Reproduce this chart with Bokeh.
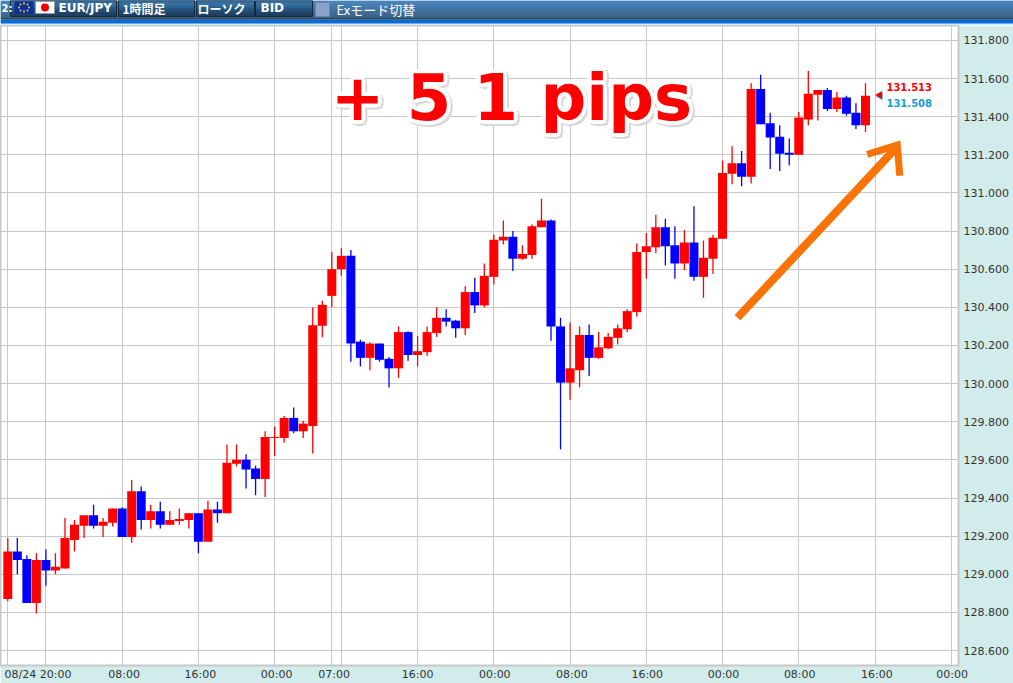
from bokeh.plotting import figure
from bokeh.layouts import column
from bokeh.models import FixedTicker, Range1d
from bokeh.core.properties import value
from bokeh.embed import file_html
from bokeh.resources import INLINE
import math

opens = [128.87,129.12,129.08,128.85,129.075,129.02,129.03,129.18,129.255,129.31,129.255,129.27,129.345,129.195,129.435,129.285,129.33,129.26,129.28,129.285,
129.32,129.17,129.34,129.32,129.58,129.60,129.555,129.50,129.715,129.715,129.82,129.75,129.778,130.303,130.46,130.60,130.67,130.22,130.135,130.21,
130.13,130.08,130.27,130.15,130.165,130.265,130.345,130.33,130.29,130.48,130.41,130.56,130.75,130.77,130.655,130.675,130.82,130.855,130.30,130.005,
130.07,130.255,130.135,130.185,130.24,130.285,130.375,130.69,130.715,130.82,130.725,130.63,130.74,130.56,130.655,130.76,131.10,131.155,131.085,131.545,
131.365,131.295,131.21,131.20,131.385,131.515,131.54,131.44,131.50,131.42,131.355]
closes = [129.12,129.075,128.85,129.075,129.02,129.04,129.19,129.26,129.31,129.255,129.275,129.345,129.195,129.435,129.285,129.33,129.26,129.285,129.29,129.32,
129.17,129.34,129.32,129.585,129.60,129.55,129.50,129.72,129.72,129.82,129.75,129.79,130.306,130.413,130.60,130.67,130.21,130.135,130.21,130.125,
130.08,130.27,130.15,130.17,130.27,130.345,130.325,130.29,130.48,130.41,130.565,130.755,130.77,130.655,130.68,130.825,130.855,130.30,130.005,130.08,
130.255,130.135,130.19,130.245,130.29,130.38,130.69,130.72,130.82,130.72,130.63,130.74,130.56,130.66,130.765,131.105,131.155,131.085,131.545,131.36,
131.29,131.205,131.20,131.395,131.52,131.54,131.44,131.50,131.415,131.355,131.51]
highs = [129.19,129.19,129.10,129.11,129.13,129.11,129.295,129.285,129.31,129.365,129.295,129.345,129.35,129.495,129.46,129.365,129.38,129.33,129.345,129.32,
129.32,129.385,129.38,129.68,129.68,129.63,129.57,129.75,129.775,129.83,129.875,129.805,130.40,130.434,130.69,130.71,130.70,130.23,130.215,130.21,
130.14,130.30,130.275,130.25,130.30,130.40,130.39,130.335,130.51,130.555,130.63,130.78,130.855,130.80,130.725,130.835,130.97,130.86,130.345,130.32,
130.30,130.31,130.27,130.265,130.31,130.39,130.735,130.79,130.885,130.865,130.825,130.805,130.93,130.75,130.78,131.17,131.245,131.22,131.575,131.62,
131.42,131.355,131.285,131.425,131.64,131.54,131.55,131.53,131.51,131.47,131.575]
lows = [128.86,129.00,128.85,128.795,128.94,129.00,129.03,129.12,129.19,129.24,129.195,129.25,129.195,129.165,129.235,129.24,129.24,129.26,129.26,129.24,
129.11,129.17,129.27,129.32,129.565,129.45,129.415,129.405,129.62,129.69,129.74,129.715,129.634,130.243,130.40,130.565,130.115,130.09,130.07,130.115,
129.98,130.03,130.12,130.09,130.145,130.245,130.30,130.24,130.255,130.37,130.40,130.52,130.73,130.59,130.65,130.655,130.82,130.225,129.655,129.915,
129.98,130.04,130.13,130.18,130.205,130.27,130.35,130.55,130.685,130.62,130.55,130.595,130.54,130.45,130.575,130.76,131.045,131.035,131.05,131.36,
131.125,131.115,131.145,131.20,131.355,131.38,131.43,131.425,131.405,131.335,131.32]

y_ticks = [128.6,128.8,129.0,129.2,129.4,129.6,129.8,130.0,130.2,130.4,130.6,130.8,131.0,131.2,131.4,131.6,131.8]
y_labels = ["128.600","128.800","129.000","129.200","129.400","129.600","129.800","130.000","130.200","130.400","130.600","130.800","131.000","131.200","131.400","131.600","131.800"]
grid_hours = [0,4,12,20,28,34,35,43,51,59,67,75,83,91,99]
label_hours = [3.17,12.2,20.2,28.2,34.25,43,51.1,59.2,67.1,75.1,83.1,91.2,99.1]
label_texts = ["08/24 20:00","08:00","16:00","00:00","07:00","16:00","00:00","08:00","16:00","00:00","08:00","16:00","00:00"]

ask_price = 131.513
bid_price = 131.508

GRID = "#c8c8c8"
STRIP = "#d2ecec"

# ---------- header bar ----------
band_colors = ["#1c66b2","#1b63ae","#1a60aa","#195da6","#185aa1","#17579c","#165497","#155192","#144e8d","#134b88","#124883","#11457e","#104279","#0f3f74","#0e3c6f","#0d396a","#0c3665","#0b3360","#000000"]
btn_colors = ["#1f4f80","#2a6596","#2f6b9a","#2f6b9a","#2f6b9a","#2b6391","#275c88","#235580","#1f4e78","#1c4870","#1a4369","#183e62","#16395c","#153656","#143352","#13304e"]
hdr = figure(width=1013, height=25, x_range=Range1d(0, 1013), y_range=Range1d(25, 0),
             toolbar_location=None, output_backend="svg", min_border=0,
             x_axis_location=None, y_axis_location=None, outline_line_color=None,
             background_fill_color=STRIP, border_fill_color=STRIP, frame_align=False)
hdr.grid.visible = False
hdr.quad(left=0, right=1013, top=[i for i in range(19)], bottom=[i + 1 for i in range(19)],
         fill_color=band_colors, line_color=None)
hdr.quad(left=0, right=1013, top=19, bottom=23, fill_color="#0a6ad8", line_color=None)
for left, right in [(10, 116), (118, 194), (196, 254), (255, 312)]:
    hdr.quad(left=left, right=right, top=[i for i in range(16)], bottom=[i + 1 for i in range(16)],
             fill_color=btn_colors, line_color=None)
    hdr.quad(left=left, right=right, top=0, bottom=16, fill_color=None, line_color="#16283c", line_width=1)
hdr.quad(left=14, right=33, top=1, bottom=13, fill_color="#0b2f9c", line_color=None)
hdr.scatter(x=[23.5,27,28.5,27,23.5,20,18.5,20], y=[3,4,7,10,11,10,7,4], size=2, marker="circle",
            fill_color="#f0d020", line_color=None)
hdr.quad(left=35, right=54, top=1, bottom=13, fill_color="#ffffff", line_color="#999999")
hdr.scatter(x=[44.5], y=[7], size=8, marker="circle", fill_color="#ee0000", line_color=None)
hdr.quad(left=315, right=329, top=2, bottom=16, fill_color="#8aa4c8", line_color="#6a84a8")
cjk = value("Noto Sans CJK JP")
hdr.text(x=[1], y=[8], text=["2:"], text_font=value("DejaVu Sans"), text_font_style="bold",
         text_font_size="10px", text_color="#ffffff", text_baseline="middle")
hdr.text(x=[58], y=[7], text=["EUR/JPY"], text_font=value("DejaVu Sans"), text_font_style="bold",
         text_font_size="12px", text_color="#ffffff", text_baseline="middle")
hdr.text(x=[122], y=[8], text=["1時間足"], text_font=cjk, text_font_style="bold",
         text_font_size="12px", text_color="#ffffff", text_baseline="middle")
hdr.text(x=[197], y=[8], text=["ローソク"], text_font=cjk, text_font_style="bold",
         text_font_size="12px", text_color="#ffffff", text_baseline="middle")
hdr.text(x=[260], y=[7], text=["BID"], text_font=value("DejaVu Sans"), text_font_style="bold",
         text_font_size="12px", text_color="#ffffff", text_baseline="middle")
hdr.text(x=[336], y=[9], text=["Exモード切替"], text_font=cjk,
         text_font_size="13px", text_color="#ffffff", text_baseline="middle")

# ---------- chart ----------
hours = list(range(len(opens)))
p = figure(width=1013, height=658, toolbar_location=None, output_backend="svg",
           x_range=Range1d(-0.766, 99.76), y_range=Range1d(128.5216, 131.878),
           y_axis_location="right", min_border_left=0, min_border_top=0,
           min_border_right=55, min_border_bottom=16,
           background_fill_color="#ffffff", border_fill_color=STRIP,
           outline_line_color=GRID, outline_line_width=2, frame_align=False)
p.xaxis.ticker = FixedTicker(ticks=label_hours)
p.xaxis.major_label_overrides = dict(zip(label_hours, label_texts))
p.yaxis.ticker = FixedTicker(ticks=y_ticks)
p.yaxis.major_label_overrides = dict(zip(y_ticks, y_labels))
p.xgrid.ticker = FixedTicker(ticks=grid_hours)
for ax in (p.xaxis[0], p.yaxis[0]):
    ax.axis_line_color = None
    ax.major_tick_line_color = None
    ax.minor_tick_line_color = None
    ax.major_tick_out = 0
    ax.major_tick_in = 0
    ax.minor_tick_out = 0
    ax.minor_tick_in = 0
    ax.major_label_text_font = "DejaVu Sans"
    ax.major_label_text_font_size = "11px"
    ax.major_label_text_color = "#333333"
p.xaxis[0].major_label_standoff = 2
p.yaxis[0].major_label_standoff = 5
p.grid.grid_line_color = GRID
p.grid.grid_line_width = 1

colors = ["#ff0000" if c >= o else "#0000ff" for o, c in zip(opens, closes)]
p.segment(x0=hours, x1=hours, y0=lows, y1=highs, line_color=colors, line_width=1.3)
p.vbar(x=hours, width=0.945, bottom=[min(o, c) for o, c in zip(opens, closes)],
       top=[max(o, c) for o, c in zip(opens, closes)], fill_color=colors, line_color=None)

# price tag
p.scatter(x=[91.55], y=[bid_price], marker="triangle", angle=math.pi / 2, size=8,
          fill_color="#1a9ad6", line_color=None)
p.scatter(x=[91.5], y=[ask_price], marker="triangle", angle=math.pi / 2, size=8,
          fill_color="#ff0000", line_color=None)
p.text(x=[92.2], y=[ask_price], y_offset=-8, text=[f"{ask_price:.3f}"], text_font=value("DejaVu Sans"),
       text_font_style="bold", text_font_size="10px", text_color="#ff0000", text_baseline="middle")
p.text(x=[92.2], y=[bid_price], y_offset=7, text=[f"{bid_price:.3f}"], text_font=value("DejaVu Sans"),
       text_font_style="bold", text_font_size="10px", text_color="#1a9ad6", text_baseline="middle")

# orange arrow
p.line(x=[76.57, 93.1], y=[130.346, 131.23], line_color="#f97306", line_width=8)
p.line(x=[90.18, 93.33, 93.6], y=[131.202, 131.251, 131.09], line_color="#f97306", line_width=7, line_join="miter")

# caption with halo and soft shadow
caption = "+ 5 1 pips"
cap_x, cap_y = 33.9, 131.50
ring_x = [4, 3, 0, -3, -4, -3, 0, 3]
ring_y = [0, 3, 4, 3, 0, -3, -4, -3]
cap_style = dict(text_font=value("DejaVu Sans"), text_font_style="bold", text_font_size="64px",
                 text_baseline="alphabetic")
p.text(x=[cap_x] * 8, y=[cap_y] * 8, text=[caption] * 8, x_offset=[a + 2 for a in ring_x],
       y_offset=[b + 2 for b in ring_y], text_color="#d8d8d8", **cap_style)
p.text(x=[cap_x] * 8, y=[cap_y] * 8, text=[caption] * 8, x_offset=ring_x, y_offset=ring_y,
       text_color="#ffffff", **cap_style)
p.text(x=[cap_x], y=[cap_y], text=[caption], text_color="#ff0000", **cap_style)

layout = column(hdr, p, spacing=0)
open("out.html", "w").write(file_html(layout, INLINE))
